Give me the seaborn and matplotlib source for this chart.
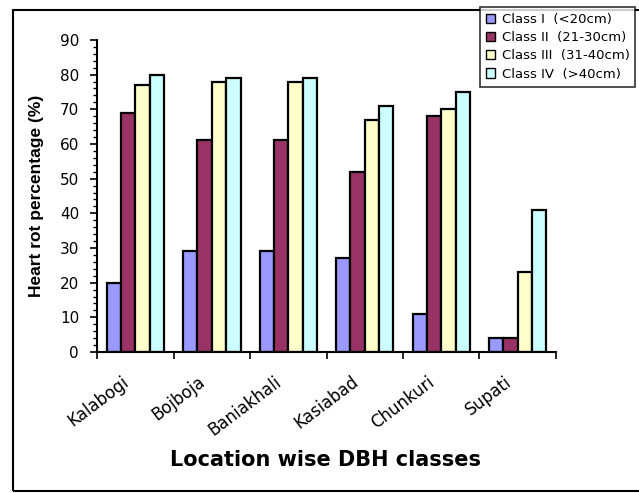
import pandas as pd
import matplotlib
matplotlib.use('Agg')
import matplotlib.pyplot as plt
import matplotlib.transforms as mtransforms
import seaborn as sns
from matplotlib.patches import Rectangle
from matplotlib.ticker import MultipleLocator, FixedLocator

# Données
locations = ['Kalabogi', 'Bojboja', 'Baniakhali', 'Kasiabad', 'Chunkuri', 'Supati']
classes = ['Class I  (<20cm)', 'Class II  (21-30cm)', 'Class III  (31-40cm)', 'Class IV  (>40cm)']
class_1 = [20, 29, 29, 27, 11, 4]
class_2 = [69, 61, 61, 52, 68, 4]
class_3 = [77, 78, 78, 67, 70, 23]
class_4 = [80, 79, 79, 71, 75, 41]
colors = ['#9999FF', '#993366', '#FFFFCC', '#CCFFFF']

rows = []
for cls, vals in zip(classes, [class_1, class_2, class_3, class_4]):
    for loc, v in zip(locations, vals):
        rows.append({'Location': loc, 'Class': cls, 'Value': v})
df = pd.DataFrame(rows)

sns.set_style('ticks')
plt.rcParams['font.family'] = ['DejaVu Sans']
plt.rcParams['text.color'] = 'black'
plt.rcParams['axes.labelcolor'] = 'black'
plt.rcParams['xtick.color'] = 'black'
plt.rcParams['ytick.color'] = 'black'

fig = plt.figure(figsize=(6.39, 4.93), dpi=100)
ax = fig.add_axes([0.152, 0.286, 0.718, 0.633])

sns.barplot(data=df, x='Location', y='Value', hue='Class', palette=colors,
            saturation=1, width=0.75, edgecolor='black', linewidth=1.6, ax=ax, legend=True)

ax.set_ylim(0, 90)
ax.set_xlim(-0.5, len(locations) - 0.5)
ax.yaxis.set_major_locator(MultipleLocator(10))
ax.yaxis.set_minor_locator(MultipleLocator(2))
ax.tick_params(axis='y', which='major', length=5, width=1.2, labelsize=11, pad=8)
ax.tick_params(axis='y', which='minor', length=3, width=1)

# ticks entre les groupes, étiquettes au centre
ax.xaxis.set_major_locator(FixedLocator([i - 0.5 for i in range(len(locations) + 1)]))
ax.xaxis.set_minor_locator(FixedLocator(list(range(len(locations)))))
ax.set_xticklabels([''] * (len(locations) + 1))
ax.set_xticklabels(locations, minor=True, rotation=37, ha='right', rotation_mode='anchor', fontsize=12)
ax.tick_params(axis='x', which='major', length=5, width=1.2)
ax.tick_params(axis='x', which='minor', length=0, pad=15)
shift = mtransforms.ScaledTranslation(-10 / 72, 0, fig.dpi_scale_trans)
for lbl in ax.get_xticklabels(minor=True):
    lbl.set_transform(lbl.get_transform() + shift)

for s in ['top', 'right']:
    ax.spines[s].set_visible(False)
for s in ['left', 'bottom']:
    ax.spines[s].set_linewidth(1.5)
    ax.spines[s].set_color('black')

ax.set_ylabel('Heart rot percentage (%)', fontsize=12.5, fontweight='bold',
              labelpad=11, family='Liberation Sans')
ax.set_xlabel('')
fig.text(0.51, 0.067, 'Location wise DBH classes', ha='center', va='center',
         fontsize=15, fontweight='bold')

# Légende
handles, labels = ax.get_legend_handles_labels()
ax.get_legend().remove()
leg = fig.legend(handles, labels, loc='upper left', bbox_to_anchor=(0.751, 0.986),
                 fontsize=9.5, frameon=True, fancybox=False, edgecolor='black',
                 handlelength=0.7, handleheight=0.7, handletextpad=0.5,
                 labelspacing=0.4, borderpad=0.45, borderaxespad=0)
leg.get_frame().set_linewidth(1.2)
for h in leg.legend_handles:
    h.set_linewidth(1)

# Cadre autour de la figure
frame = Rectangle((0.021, 0.004), 1.1, 0.976, transform=fig.transFigure,
                  fill=False, edgecolor='black', linewidth=1.5, zorder=-1)
fig.patches.append(frame)

fig.savefig('out.png', dpi=100)
